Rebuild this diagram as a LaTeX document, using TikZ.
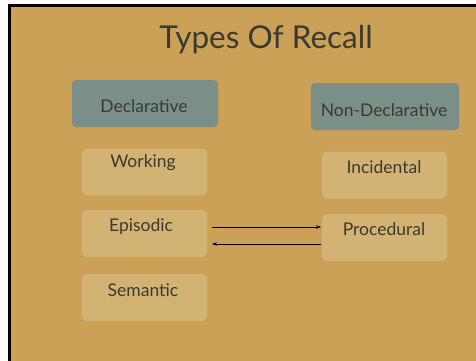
\documentclass[tikz,border=0pt]{standalone}
\usepackage{fontspec}
\setmainfont{Lato}
\usetikzlibrary{arrows.meta}
\definecolor{bgtan}{HTML}{CBA057}
\definecolor{darkbox}{HTML}{7A8F88}
\definecolor{lightbox}{HTML}{D2B374}
\definecolor{txt}{HTML}{3A3A30}
\tikzset{
  darkstyle/.style={fill=darkbox, rounded corners=4pt, minimum width=146pt, minimum height=47pt, inner sep=0pt},
  lightstyle/.style={fill=lightbox, rounded corners=5pt, minimum width=125pt, minimum height=47pt, inner sep=0pt},
  lbl/.style={text=txt, font=\fontsize{17.5}{20}\selectfont, inner sep=0pt},
  arr/.style={-{Stealth[length=5pt,width=3.5pt]}, line width=0.8pt, black}
}
\begin{document}
\begin{tikzpicture}[x=1pt,y=-1pt]
\useasboundingbox (0,0) rectangle (476,360);
\fill[white] (0,0) rectangle (476,360);
\begin{scope}
\clip (0,0) rectangle (476,360);
\draw[fill=bgtan, line width=3pt] (9.5,5.5) rectangle (490,370);
\end{scope}
\node[text=txt, font=\fontsize{31.5}{36}\selectfont, inner sep=0pt] (title) at (266,40) {Types Of Recall};
\node[darkstyle] (decl) at (145,103.5) {};
\node[lbl] (decltxt) at (144,106) {Declarative};
\node[darkstyle, minimum width=148pt] (nondecl) at (385,106.5) {};
\node[lbl] (nondecltxt) at (384,110) {Non-Declarative};
\node[lightstyle] (work) at (144.5,172) {};
\node[lbl] (worktxt) at (143,163) {Working};
\node[lightstyle] (inc) at (384.5,175) {};
\node[lbl] (inctxt) at (384,167) {Incidental};
\node[lightstyle] (epi) at (144.5,233.5) {};
\node[lbl] (epitxt) at (141,227) {Episodic};
\node[lightstyle] (proc) at (384.5,237.5) {};
\node[lbl] (proctxt) at (384,229) {Procedural};
\node[lightstyle] (sem) at (144.5,297.5) {};
\node[lbl] (semtxt) at (143,290) {Semantic};
\coordinate (a1s) at (212,227);
\coordinate (a1e) at (321,227);
\coordinate (a2s) at (321,244);
\coordinate (a2e) at (212,244);
\draw[arr] (a1s) -- (a1e);
\draw[arr] (a2s) -- (a2e);
\end{tikzpicture}
\end{document}
